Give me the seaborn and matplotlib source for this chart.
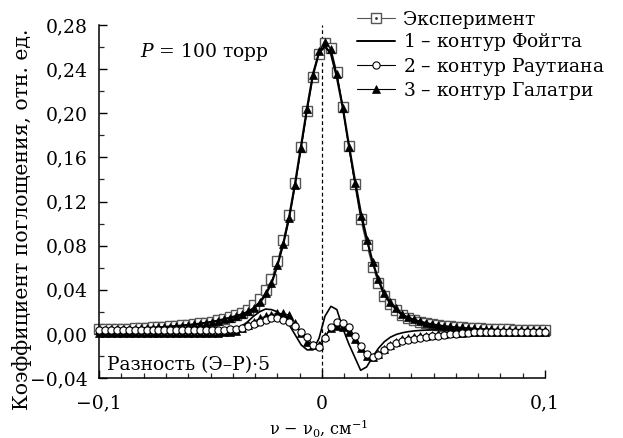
import numpy as np
import pandas as pd
import matplotlib
matplotlib.use("Agg")
import matplotlib.pyplot as plt
from matplotlib.ticker import MultipleLocator, FixedLocator, FuncFormatter
from matplotlib.lines import Line2D
from matplotlib.legend_handler import HandlerTuple
import seaborn as sns

# ---------------- data ----------------
# detuning grid nu - nu0, cm^-1 (76 equally spaced measurement points)
nu = np.round(np.linspace(-0.1, 0.1, 76), 5)

experiment = [
    0.0040, 0.0040, 0.0042, 0.0044, 0.0046, 0.0048, 0.0050, 0.0052, 0.0055, 0.0058,
    0.0060, 0.0064, 0.0068, 0.0072, 0.0077, 0.0082, 0.0088, 0.0095, 0.0103, 0.0112,
    0.0123, 0.0136, 0.0151, 0.0169, 0.0190, 0.0220, 0.0260, 0.0320, 0.0400, 0.0500,
    0.0660, 0.0850, 0.1080, 0.1370, 0.1690, 0.2020, 0.2330, 0.2540,
    0.2640, 0.2590, 0.2370, 0.2060, 0.1700, 0.1360, 0.1040, 0.0810, 0.0610, 0.0460,
    0.0340, 0.0270, 0.0220, 0.0170, 0.0145, 0.0127, 0.0112, 0.0100, 0.0090, 0.0082,
    0.0075, 0.0069, 0.0064, 0.0060, 0.0056, 0.0053, 0.0050, 0.0047, 0.0045, 0.0043,
    0.0041, 0.0040, 0.0039, 0.0038, 0.0037, 0.0036, 0.0035, 0.0035,
]

# residuals (experiment - model) * 5
resid_voigt = [
    0.0005, 0.0005, 0.0005, 0.0005, 0.0005, 0.0005, 0.0005, 0.0005, 0.0005, 0.0005,
    0.0005, 0.0005, 0.0005, 0.0005, 0.0006, 0.0007, 0.0008, 0.0009, 0.0010, 0.0012,
    0.0014, 0.0016, 0.0020, 0.0040, 0.0070, 0.0110, 0.0160, 0.0200, 0.0225, 0.0220,
    0.0200, 0.0150, 0.0080, -0.0010, -0.0100, -0.0145, -0.0145, -0.0040,
    0.0160, 0.0250, 0.0220, 0.0050, -0.0090, -0.0210, -0.0330, -0.0300, -0.0210, -0.0130,
    -0.0070, -0.0030, -0.0005, 0.0010, 0.0020, 0.0027, 0.0031, 0.0034, 0.0036, 0.0037,
    0.0038, 0.0038, 0.0038, 0.0038, 0.0038, 0.0038, 0.0038, 0.0038, 0.0038, 0.0038,
    0.0038, 0.0038, 0.0038, 0.0038, 0.0038, 0.0038, 0.0038, 0.0038,
]

resid_rautian = [
    0.0036, 0.0036, 0.0036, 0.0036, 0.0036, 0.0036, 0.0036, 0.0036, 0.0036, 0.0036,
    0.0036, 0.0036, 0.0035, 0.0035, 0.0034, 0.0034, 0.0033, 0.0033, 0.0033, 0.0034,
    0.0035, 0.0037, 0.0040, 0.0045, 0.0055, 0.0070, 0.0085, 0.0110, 0.0130, 0.0140,
    0.0140, 0.0130, 0.0110, 0.0070, 0.0020, -0.0030, -0.0100, -0.0120,
    -0.0040, 0.0060, 0.0110, 0.0100, 0.0060, -0.0020, -0.0110, -0.0180, -0.0210, -0.0190,
    -0.0150, -0.0110, -0.0080, -0.0065, -0.0055, -0.0048, -0.0040, -0.0030, -0.0023, -0.0015,
    -0.0010, -0.0005, 0.0000, 0.0005, 0.0010, 0.0013, 0.0016, 0.0018, 0.0019, 0.0020,
    0.0020, 0.0020, 0.0020, 0.0020, 0.0020, 0.0020, 0.0020, 0.0020,
]

resid_galatry = [
    0.0010, 0.0010, 0.0010, 0.0010, 0.0010, 0.0010, 0.0010, 0.0010, 0.0010, 0.0010,
    0.0010, 0.0010, 0.0010, 0.0010, 0.0010, 0.0010, 0.0010, 0.0010, 0.0010, 0.0011,
    0.0012, 0.0015, 0.0020, 0.0030, 0.0050, 0.0080, 0.0110, 0.0140, 0.0160, 0.0175,
    0.0185, 0.0185, 0.0170, 0.0100, 0.0010, -0.0070, -0.0100, -0.0100,
    -0.0020, 0.0050, 0.0070, 0.0060, 0.0020, -0.0050, -0.0130, -0.0200, -0.0210, -0.0180,
    -0.0140, -0.0100, -0.0070, -0.0050, -0.0040, -0.0030, -0.0022, -0.0015, -0.0010, -0.0005,
    0.0000, 0.0004, 0.0008, 0.0011, 0.0013, 0.0015, 0.0016, 0.0017, 0.0018, 0.0018,
    0.0018, 0.0018, 0.0018, 0.0018, 0.0018, 0.0018, 0.0018, 0.0018,
]

x_ticks = [-0.1, 0.0, 0.1]
y_ticks = [-0.04, 0.00, 0.04, 0.08, 0.12, 0.16, 0.20, 0.24, 0.28]

# ---------------- build frames ----------------
df = pd.DataFrame({
    "nu": nu,
    "exp": experiment,
    "r_v": resid_voigt,
    "r_r": resid_rautian,
    "r_g": resid_galatry,
})
# model profiles follow from the plotted definition residual = (E - model) * 5
df["voigt"] = df["exp"] - df["r_v"] / 5.0
df["galatry"] = df["exp"] - df["r_g"] / 5.0

# ---------------- style ----------------
sns.set_theme(style="ticks")
plt.rcParams["font.family"] = ["DejaVu Serif"]
plt.rcParams["mathtext.fontset"] = "dejavuserif"
plt.rcParams["axes.unicode_minus"] = True

FS = 13.5
fig = plt.figure(figsize=(6.23, 4.38), dpi=100)
ax = fig.add_axes([99 / 623, 1 - 378 / 438, (545 - 99) / 623, (378 - 25) / 438])

sq_kw = dict(marker="s", markersize=6.6, markerfacecolor="white",
             markeredgecolor="#555555", markeredgewidth=1.0)
ci_kw = dict(marker="o", markersize=5.2, markerfacecolor="white",
             markeredgecolor="black", markeredgewidth=0.8)
tr_kw = dict(marker="^", markersize=5.6, markerfacecolor="black",
             markeredgecolor="black", markeredgewidth=0.5)

# experiment
sns.lineplot(data=df, x="nu", y="exp", ax=ax, color="#555555", lw=0.8,
             sort=False, estimator=None, zorder=2, clip_on=False, **sq_kw)
# Voigt profile and its residual
sns.lineplot(data=df, x="nu", y="voigt", ax=ax, color="black", lw=1.6,
             sort=False, estimator=None, zorder=3)
sns.lineplot(data=df, x="nu", y="r_v", ax=ax, color="black", lw=1.2,
             sort=False, estimator=None, zorder=3)
# Galatry profile and residual
sns.lineplot(data=df, x="nu", y="galatry", ax=ax, color="black", lw=0.8,
             sort=False, estimator=None, zorder=4, clip_on=False, **tr_kw)
sns.lineplot(data=df, x="nu", y="r_g", ax=ax, color="black", lw=0.8,
             sort=False, estimator=None, zorder=4, clip_on=False, **tr_kw)
# Rautian residual
sns.lineplot(data=df, x="nu", y="r_r", ax=ax, color="black", lw=0.8,
             sort=False, estimator=None, zorder=5, clip_on=False, **ci_kw)

ax.axvline(0, color="black", lw=0.9, ls=(0, (3, 2.2)), zorder=1)

# ---------------- axes ----------------
ax.set_xlim(-0.1, 0.1)
ax.set_ylim(-0.04, 0.28)
ax.xaxis.set_major_locator(FixedLocator(x_ticks))
ax.xaxis.set_minor_locator(MultipleLocator(0.01))
ax.yaxis.set_major_locator(FixedLocator(y_ticks))
ax.yaxis.set_minor_locator(MultipleLocator(0.02))


def fmt_x(v, pos):
    if abs(v) < 1e-9:
        return "0"
    s = f"{abs(v):.1f}".replace(".", ",")
    return ("\u2212" if v < 0 else "") + s


def fmt_y(v, pos):
    s = f"{abs(v):.2f}".replace(".", ",")
    return ("\u2212" if v < -1e-9 else "") + s


ax.xaxis.set_major_formatter(FuncFormatter(fmt_x))
ax.yaxis.set_major_formatter(FuncFormatter(fmt_y))

ax.tick_params(axis="both", which="major", direction="in", length=6, width=1.0,
               labelsize=FS, colors="black")
ax.tick_params(axis="both", which="minor", direction="in", length=3.6, width=0.9)
ax.tick_params(axis="x", which="major", pad=12)
ax.tick_params(axis="y", which="major", pad=8)

for side in ["top", "right"]:
    ax.spines[side].set_visible(False)
for side in ["left", "bottom"]:
    ax.spines[side].set_color("black")
    ax.spines[side].set_linewidth(1.1)

ax.set_xlabel(r"ν − ν$_0$, см$^{-1}$", fontsize=11.5, color="black")
ax.set_ylabel("Коэффициент поглощения, отн. ед.", fontsize=14.7, color="black")
ax.xaxis.set_label_coords(0.493, -0.11)
ax.yaxis.set_label_coords(-0.15, 0.45)

ax.text(0.092, 0.923, r"$P$ = 100 торр", transform=ax.transAxes,
        fontsize=FS, va="center", ha="left", color="black")
ax.text(0.018, 0.037, "Разность (Э–Р)·5", transform=ax.transAxes,
        fontsize=FS, va="center", ha="left", color="black")

# ---------------- legend ----------------
h_exp = Line2D([], [], color="#555555", lw=0.8, **sq_kw)
h_dot = Line2D([], [], ls="none", marker=".", markersize=2, color="#333333")
h_v = Line2D([], [], color="black", lw=1.4)
h_r = Line2D([], [], color="black", lw=0.8, **ci_kw)
h_g = Line2D([], [], color="black", lw=0.8, **tr_kw)
leg = fig.legend(
    [(h_exp, h_dot), h_v, h_r, h_g],
    ["Эксперимент",
     r"$\mathit{1}$ – контур Фойгта",
     r"$\mathit{2}$ – контур Раутиана",
     r"$\mathit{3}$ – контур Галатри"],
    handler_map={tuple: HandlerTuple(ndivide=1, pad=0)},
    loc="upper left", bbox_to_anchor=(357 / 623, 1 - 11 / 438),
    frameon=False, fontsize=FS, borderpad=0, borderaxespad=0,
    handlelength=2.0, handletextpad=0.45, labelspacing=0.12,
)
for t in leg.get_texts():
    t.set_color("black")

fig.savefig("out.png", dpi=100)
